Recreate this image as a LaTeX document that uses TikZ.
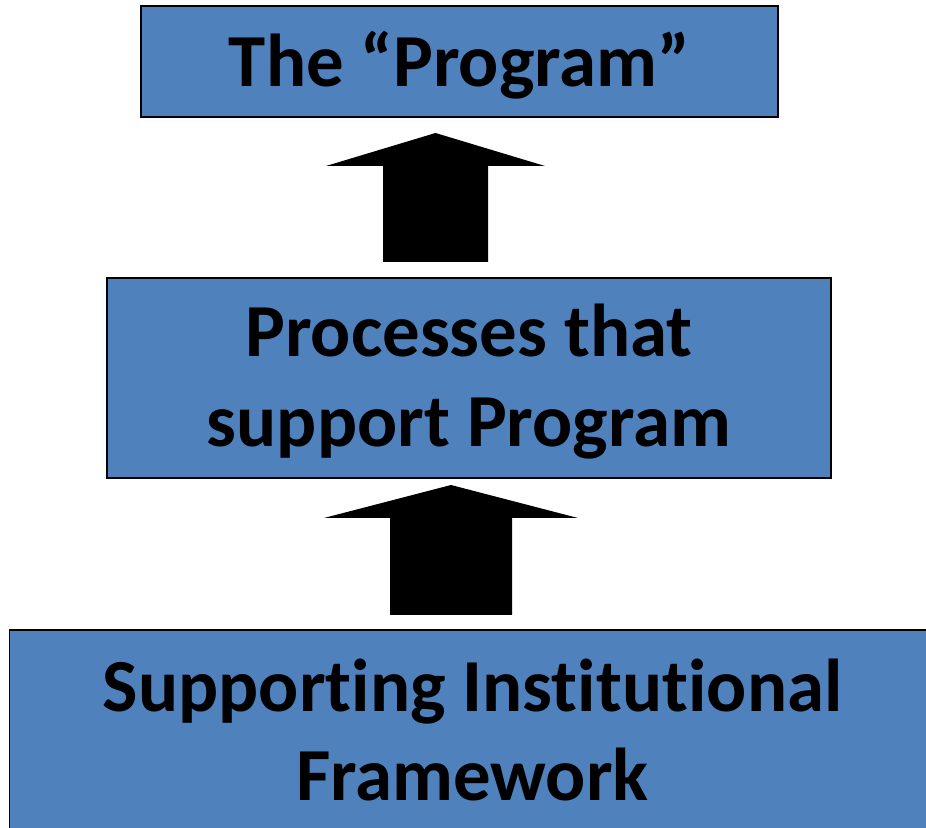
\documentclass[tikz,border=0pt]{standalone}
\usepackage{xcolor}
\usepackage{tikz}
\usepackage{fontspec}
\setmainfont[Ligatures=NoCommon]{Carlito}
\definecolor{PRBlue}{HTML}{4F81BD}
\definecolor{PREdge}{HTML}{000000}

\begin{document}
\begin{tikzpicture}[x=1cm,y=1cm,
  tier/.style={draw=PREdge,line width=1pt,fill=PRBlue,align=center,inner sep=0pt,
    font=\bfseries\fontsize{42.6}{51}\selectfont},
  blockarrow/.style={fill=black}]
\path[use as bounding box] (0,0) rectangle (18.52,16.56);
\node[tier,minimum width=12.74cm,minimum height=2.22cm,text depth=0.12cm] (prog) at (9.19,15.33) {The “Program”};
\node[tier,minimum width=14.48cm,minimum height=4.00cm,text depth=0.12cm] (proc) at (9.38,9.00) {Processes that\\support Program};
\node[tier,minimum width=18.52cm,minimum height=4.00cm] (frame) at (9.45,1.96) {Supporting Institutional\\Framework};
% upward block arrows between the tiers
\coordinate (up1) at (8.71,11.32);
\coordinate (up1tip) at (8.71,13.90);
\fill[blockarrow] (up1) ++(-1.05,0) -- ++(0,1.92) -- ++(-1.14,0) -- (up1tip) -- ++(2.19,-0.66) -- ++(-1.14,0) -- ++(0,-1.92) -- cycle;
\coordinate (up2) at (9.02,4.26);
\coordinate (up2tip) at (9.02,6.86);
\fill[blockarrow] (up2) ++(-1.22,0) -- ++(0,1.94) -- ++(-1.32,0) -- (up2tip) -- ++(2.54,-0.66) -- ++(-1.32,0) -- ++(0,-1.94) -- cycle;
\end{tikzpicture}
\end{document}
